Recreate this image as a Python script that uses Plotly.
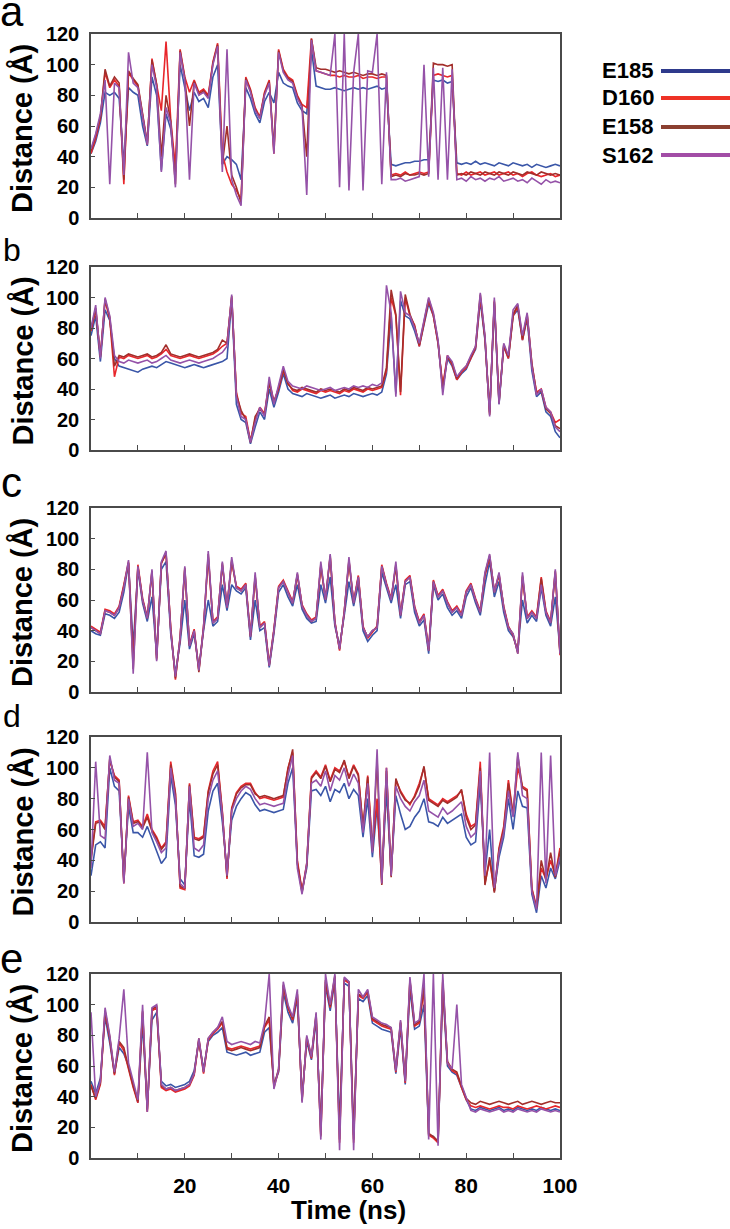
"""Distance traces for four residues over 100 ns, five stacked panels (a-e)."""

import plotly.graph_objects as go
from plotly.subplots import make_subplots

# ---- data (1 ns sampling) --------------------------------------------------
TIME_NS = list(range(0, 101))
RESIDUES = ["E185", "D160", "E158", "S162"]
PANEL_LABELS = ["a", "b", "c", "d", "e"]
Y_TICKS = [0, 20, 40, 60, 80, 100, 120]
X_TICKS = [10, 20, 30, 40, 50, 60, 70, 80, 90, 100]
X_TICK_TEXT = ["", "20", "", "40", "", "60", "", "80", "", "100"]

a_E185 = [42, 50, 62, 82, 80, 82, 78, 35, 85, 82,
          80, 60, 47, 92, 80, 31, 68, 58, 30, 100,
          85, 70, 82, 76, 78, 72, 92, 100, 35, 40,
          38, 35, 25, 85, 78, 68, 62, 76, 82, 75,
          95, 88, 86, 85, 75, 70, 68, 110, 86, 85,
          84, 84, 85, 84, 83, 84, 85, 84, 85, 84,
          85, 86, 84, 85, 35, 34, 35, 36, 36, 37,
          37, 38, 38, 90, 89, 90, 88, 89, 36, 35,
          36, 35, 37, 35, 36, 35, 34, 36, 35, 34,
          36, 35, 34, 35, 33, 35, 34, 33, 34, 35,
          34]
a_D160 = [42, 52, 65, 95, 85, 90, 86, 22, 95, 90,
          86, 66, 48, 104, 88, 70, 115, 64, 33, 110,
          92, 82, 90, 82, 84, 80, 102, 114, 42, 30,
          22, 18, 12, 92, 84, 72, 66, 82, 90, 42,
          110, 97, 92, 90, 80, 74, 72, 117, 96, 95,
          94, 93, 93, 92, 93, 92, 92, 93, 91, 92,
          92, 91, 92, 92, 28, 29, 28, 30, 28, 29,
          30, 29, 30, 93, 94, 93, 92, 93, 29, 28,
          30, 28, 29, 30, 28, 29, 30, 28, 29, 30,
          28, 29, 27, 29, 30, 28, 27, 28, 29, 27,
          28]
a_E158 = [44, 54, 66, 97, 86, 92, 88, 25, 96, 91,
          87, 67, 49, 103, 87, 40, 80, 63, 22, 109,
          91, 60, 89, 81, 83, 79, 101, 113, 35, 60,
          28, 20, 10, 91, 83, 71, 65, 81, 89, 45,
          109, 96, 91, 89, 79, 73, 40, 117, 98, 97,
          97, 96, 95, 96, 95, 94, 95, 94, 93, 94,
          94, 93, 94, 93, 27, 28, 27, 29, 28, 28,
          29, 28, 29, 101, 100, 100, 99, 100, 28, 29,
          28, 30, 29, 28, 30, 29, 28, 30, 29, 28,
          30, 29, 28, 30, 29, 28, 30, 29, 28, 29,
          28]
a_S162 = [45, 55, 68, 90, 22, 88, 85, 28, 108, 88,
          85, 65, 48, 100, 85, 30, 72, 62, 20, 108,
          90, 25, 88, 80, 82, 78, 100, 112, 30, 110,
          25, 15, 8, 90, 82, 70, 65, 80, 88, 42,
          108, 95, 90, 88, 78, 72, 15, 116, 96, 95,
          94, 93, 120, 20, 120, 18, 95, 120, 18, 96,
          95, 120, 22, 95, 25, 25, 26, 24, 25, 26,
          27, 100, 27, 98, 25, 98, 25, 97, 25, 26,
          24, 27, 25, 26, 24, 26, 25, 27, 24, 25,
          26, 24, 25, 23, 26, 24, 22, 25, 23, 24,
          23]

b_E185 = [75, 88, 58, 92, 85, 60, 55, 54, 53, 52,
          51, 53, 54, 55, 54, 56, 58, 57, 56, 55,
          54, 55, 56, 55, 54, 55, 56, 57, 58, 60,
          98, 30, 20, 18, 4, 15, 25, 20, 40, 28,
          38, 50, 40, 37, 36, 35, 37, 36, 35, 34,
          35, 36, 34, 35, 36, 35, 37, 36, 35, 36,
          37, 36, 38, 50, 88, 37, 98, 88, 86, 78,
          68, 82, 96, 88, 70, 40, 60, 55, 46, 50,
          53, 60, 66, 98, 72, 25, 96, 30, 68, 60,
          88, 92, 72, 86, 52, 35, 38, 25, 22, 12,
          8]
b_D160 = [78, 92, 62, 98, 86, 48, 61, 60, 62, 61,
          60, 61, 62, 60, 61, 63, 66, 62, 61, 60,
          61, 62, 61, 60, 61, 62, 63, 65, 68, 70,
          100, 38, 24, 22, 6, 20, 28, 24, 45, 32,
          40, 52, 44, 39, 38, 40, 39, 38, 37, 39,
          38, 39, 38, 37, 39, 38, 40, 39, 38, 40,
          39, 40, 41, 52, 100, 88, 36, 100, 88, 82,
          68, 83, 98, 88, 70, 42, 62, 56, 46, 51,
          54, 60, 67, 100, 74, 24, 98, 32, 68, 60,
          88, 94, 72, 88, 56, 38, 40, 28, 25, 18,
          20]
b_E158 = [79, 93, 61, 99, 87, 55, 62, 61, 63, 62,
          61, 62, 63, 61, 62, 64, 69, 63, 62, 61,
          62, 63, 62, 61, 62, 63, 64, 66, 72, 70,
          101, 36, 26, 20, 5, 22, 27, 23, 44, 31,
          41, 53, 43, 40, 39, 41, 40, 39, 38, 40,
          39, 40, 39, 38, 40, 39, 41, 40, 39, 41,
          40, 41, 42, 54, 105, 89, 38, 102, 89, 81,
          69, 84, 99, 89, 71, 40, 61, 57, 47, 52,
          55, 61, 68, 102, 73, 23, 97, 31, 69, 61,
          89, 95, 73, 89, 57, 37, 39, 27, 24, 16,
          14]
b_S162 = [80, 95, 60, 100, 88, 62, 58, 57, 59, 58,
          57, 58, 59, 57, 58, 60, 62, 59, 58, 57,
          58, 59, 58, 57, 58, 59, 60, 62, 64, 68,
          102, 35, 22, 20, 5, 18, 28, 22, 48, 30,
          42, 55, 45, 42, 41, 40, 42, 41, 40, 39,
          40, 41, 39, 40, 41, 40, 42, 41, 42, 41,
          43, 42, 44, 108, 90, 35, 104, 90, 88, 80,
          70, 85, 100, 90, 72, 36, 62, 58, 48, 52,
          55, 62, 68, 103, 75, 22, 100, 30, 70, 62,
          92, 96, 75, 90, 55, 36, 40, 28, 25, 15,
          12]

c_E185 = [40, 38, 37, 51, 50, 48, 52, 65, 84, 30,
          80, 58, 46, 62, 24, 80, 85, 38, 12, 32,
          60, 28, 38, 16, 40, 60, 43, 46, 70, 53,
          70, 66, 64, 68, 34, 60, 40, 42, 16, 38,
          65, 70, 62, 56, 70, 54, 48, 45, 46, 70,
          58, 75, 43, 30, 50, 72, 56, 70, 40, 33,
          37, 40, 78, 68, 58, 70, 48, 70, 72, 52,
          43, 47, 25, 70, 60, 64, 55, 50, 53, 48,
          62, 68, 58, 50, 70, 85, 62, 72, 52, 40,
          36, 27, 60, 45, 50, 46, 68, 50, 43, 62,
          27]
c_D160 = [43, 41, 39, 54, 53, 51, 56, 70, 85, 20,
          83, 61, 49, 78, 22, 84, 90, 42, 8, 36,
          80, 31, 41, 14, 43, 88, 46, 49, 83, 56,
          85, 69, 67, 71, 37, 75, 43, 46, 18, 41,
          69, 73, 66, 59, 76, 57, 51, 47, 49, 82,
          61, 88, 46, 27, 53, 85, 59, 76, 43, 35,
          39, 43, 83, 71, 61, 82, 51, 73, 76, 56,
          46, 51, 28, 73, 63, 67, 59, 53, 56, 51,
          66, 71, 61, 53, 76, 88, 66, 76, 56, 43,
          37, 26, 75, 49, 53, 49, 75, 53, 46, 78,
          24]
c_E158 = [42, 40, 38, 53, 52, 50, 55, 69, 84, 15,
          82, 60, 48, 79, 21, 84, 91, 41, 9, 35,
          81, 30, 40, 13, 42, 90, 45, 48, 84, 55,
          86, 68, 66, 70, 36, 76, 42, 45, 17, 40,
          68, 72, 65, 58, 77, 56, 50, 46, 48, 83,
          60, 89, 45, 28, 52, 86, 58, 75, 42, 36,
          40, 42, 82, 70, 60, 83, 50, 72, 75, 55,
          45, 50, 27, 72, 62, 66, 58, 52, 55, 50,
          65, 70, 60, 52, 77, 89, 65, 77, 55, 42,
          38, 25, 76, 48, 52, 48, 74, 52, 45, 79,
          25]
c_S162 = [42, 40, 38, 53, 52, 50, 55, 68, 86, 12,
          82, 60, 48, 80, 20, 85, 92, 40, 10, 35,
          82, 30, 40, 14, 42, 92, 45, 48, 85, 55,
          88, 68, 66, 70, 36, 78, 42, 45, 17, 40,
          68, 72, 65, 58, 78, 56, 50, 46, 48, 85,
          60, 90, 45, 28, 52, 88, 58, 75, 42, 36,
          40, 42, 82, 70, 60, 85, 50, 72, 75, 55,
          45, 50, 27, 72, 62, 66, 58, 52, 55, 50,
          65, 70, 60, 52, 78, 90, 65, 78, 55, 42,
          38, 25, 78, 48, 52, 48, 70, 52, 45, 80,
          25]

d_E185 = [30, 50, 52, 48, 100, 88, 85, 28, 75, 58,
          58, 55, 62, 54, 45, 38, 42, 95, 76, 28,
          24, 80, 43, 42, 44, 72, 85, 90, 65, 32,
          66, 75, 80, 84, 82, 76, 72, 73, 72, 71,
          72, 73, 90, 100, 38, 20, 35, 85, 86, 82,
          88, 78, 86, 84, 90, 80, 86, 82, 55, 80,
          42, 75, 28, 85, 32, 82, 70, 60, 62, 68,
          72, 80, 65, 64, 62, 68, 64, 66, 68, 70,
          55, 50, 52, 90, 32, 60, 20, 42, 55, 80,
          60, 85, 75, 74, 18, 6, 30, 22, 35, 28,
          40]
d_D160 = [42, 65, 66, 62, 105, 95, 92, 25, 82, 65,
          66, 62, 70, 60, 55, 48, 52, 104, 84, 22,
          21, 90, 55, 54, 56, 85, 98, 104, 72, 28,
          74, 84, 88, 90, 90, 84, 80, 81, 80, 79,
          80, 81, 100, 110, 40, 20, 38, 94, 98, 94,
          102, 92, 100, 98, 104, 94, 102, 96, 60, 95,
          48, 80, 25, 100, 30, 92, 85, 80, 76, 82,
          90, 100, 80, 78, 76, 80, 78, 80, 82, 85,
          70, 62, 64, 104, 25, 40, 20, 48, 62, 92,
          70, 100, 88, 86, 22, 10, 35, 28, 40, 30,
          48]
d_E158 = [40, 64, 65, 60, 106, 94, 91, 26, 81, 64,
          65, 61, 68, 59, 54, 47, 51, 102, 83, 23,
          22, 89, 54, 53, 55, 84, 96, 102, 71, 29,
          73, 83, 87, 89, 89, 83, 81, 82, 81, 80,
          81, 82, 99, 112, 38, 19, 37, 93, 97, 93,
          101, 91, 99, 97, 105, 93, 101, 95, 62, 94,
          46, 105, 24, 98, 29, 93, 84, 79, 77, 81,
          88, 101, 79, 77, 75, 79, 77, 79, 81, 86,
          68, 60, 63, 100, 24, 42, 19, 47, 60, 90,
          69, 108, 87, 85, 21, 9, 40, 27, 45, 29,
          46]
d_S162 = [35, 104, 56, 54, 108, 92, 90, 25, 80, 62,
          64, 60, 110, 58, 52, 45, 48, 100, 80, 25,
          22, 88, 48, 46, 50, 80, 92, 98, 70, 30,
          72, 80, 85, 88, 86, 80, 76, 77, 76, 75,
          76, 77, 95, 108, 35, 18, 38, 90, 92, 88,
          98, 85, 95, 92, 100, 88, 96, 90, 58, 90,
          45, 112, 25, 100, 30, 88, 80, 75, 72, 78,
          82, 92, 72, 70, 68, 74, 70, 72, 75, 78,
          62, 55, 58, 98, 30, 110, 22, 45, 58, 85,
          68, 110, 82, 80, 20, 8, 110, 25, 108, 30,
          42]

e_E185 = [50, 42, 52, 92, 75, 55, 72, 68, 60, 48,
          36, 88, 32, 90, 95, 50, 47, 48, 46, 47,
          48, 50, 57, 76, 58, 76, 80, 82, 85, 69,
          68, 67, 68, 69, 67, 68, 69, 82, 85, 48,
          56, 108, 95, 88, 104, 40, 76, 64, 90, 20,
          112, 96, 115, 20, 114, 112, 15, 104, 102, 106,
          88, 86, 84, 83, 82, 55, 85, 48, 110, 84,
          86, 100, 15, 14, 10, 110, 60, 56, 54, 46,
          38, 32, 31, 33, 32, 31, 32, 33, 31, 32,
          31, 33, 32, 31, 32, 31, 33, 32, 31, 32,
          31]
e_D160 = [48, 38, 48, 95, 78, 54, 75, 70, 58, 46,
          36, 95, 30, 96, 98, 46, 44, 45, 43, 44,
          45, 47, 54, 77, 55, 77, 81, 84, 88, 72,
          71, 72, 73, 72, 71, 72, 73, 85, 90, 46,
          57, 112, 98, 90, 106, 38, 78, 65, 93, 15,
          115, 98, 118, 10, 116, 114, 10, 106, 104, 108,
          90, 88, 86, 85, 84, 56, 88, 49, 115, 86,
          88, 110, 15, 13, 10, 115, 62, 57, 55, 46,
          38, 34, 33, 34, 33, 32, 33, 34, 33, 33,
          32, 34, 33, 32, 33, 34, 33, 32, 33, 34,
          33]
e_E158 = [47, 39, 49, 96, 79, 55, 76, 72, 59, 47,
          37, 96, 31, 97, 99, 47, 45, 46, 44, 45,
          46, 48, 55, 78, 56, 78, 82, 85, 89, 71,
          70, 71, 72, 71, 70, 71, 72, 86, 92, 47,
          58, 113, 99, 91, 107, 37, 79, 66, 94, 14,
          116, 99, 119, 12, 117, 115, 12, 107, 105, 109,
          91, 89, 87, 86, 85, 57, 89, 50, 116, 87,
          89, 112, 16, 14, 11, 116, 63, 58, 56, 47,
          39, 36, 35, 37, 36, 35, 36, 37, 36, 35,
          36, 37, 35, 36, 37, 36, 35, 36, 37, 36,
          36]
e_S162 = [95, 40, 50, 98, 80, 56, 78, 110, 62, 50,
          38, 100, 30, 98, 100, 48, 45, 46, 44, 45,
          46, 48, 55, 78, 56, 78, 82, 85, 92, 76,
          74, 75, 76, 75, 74, 76, 75, 88, 120, 45,
          58, 115, 100, 92, 110, 36, 80, 66, 95, 12,
          120, 100, 120, 5, 118, 115, 5, 110, 105, 110,
          92, 90, 88, 87, 85, 57, 90, 50, 118, 88,
          90, 120, 12, 120, 8, 120, 62, 58, 100, 48,
          40, 31, 30, 32, 31, 30, 31, 32, 30, 31,
          30, 32, 31, 30, 31, 30, 32, 31, 30, 31,
          30]

PANELS = [
    [a_E185, a_D160, a_E158, a_S162],
    [b_E185, b_D160, b_E158, b_S162],
    [c_E185, c_D160, c_E158, c_S162],
    [d_E185, d_D160, d_E158, d_S162],
    [e_E185, e_D160, e_E158, e_S162],
]

# ---- style ----------------------------------------------------------------
W, H = 730, 1229
FONT = "Liberation Sans, Arial, sans-serif"
LINE_COLORS = {"E185": "#3A56A8", "D160": "#E8262B", "E158": "#A32E2B", "S162": "#9552A8"}
LEGEND_COLORS = {"E185": "#2E3A8C", "D160": "#EE3226", "E158": "#8B3F30", "S162": "#A24DA6"}
AXIS_COLOR = "#4a4a4a"

# positions below are pixels of the reference picture
PLOT_X = (91, 560)
PANEL_Y = [(34, 218), (267, 450), (508, 692), (737, 922), (974, 1158)]


def px_x(x):
    return x / W


def px_y(y):
    return 1 - y / H


def bold(size):
    return dict(family=FONT, size=size, color="black", weight="bold")


fig = make_subplots(rows=5, cols=1)

for r, series in enumerate(PANELS, start=1):
    for name, ys in zip(RESIDUES, series):
        fig.add_trace(go.Scatter(
            x=TIME_NS, y=ys, mode="lines", name=name, showlegend=False,
            line=dict(color=LINE_COLORS[name], width=1.6),
            hovertemplate=f"{name}: %{{y}} Å<extra></extra>",
        ), row=r, col=1)

    top, bottom = PANEL_Y[r - 1]
    fig.update_xaxes(
        row=r, col=1, domain=[px_x(PLOT_X[0]), px_x(PLOT_X[1])], range=[0, 100],
        tickvals=X_TICKS, ticktext=X_TICK_TEXT, showticklabels=(r == 5),
        ticks="inside", ticklen=5, tickwidth=1.2, tickcolor=AXIS_COLOR,
        showline=True, mirror=True, linecolor=AXIS_COLOR, linewidth=1.5,
        showgrid=False, zeroline=False, ticklabelstandoff=8, automargin=False,
        tickfont=bold(21),
    )
    fig.update_yaxes(
        row=r, col=1, domain=[px_y(bottom), px_y(top)], range=[0, 120],
        tickvals=Y_TICKS, ticks="inside", ticklen=4, tickwidth=1.2, tickcolor=AXIS_COLOR,
        showline=True, mirror=True, linecolor=AXIS_COLOR, linewidth=1.5,
        showgrid=False, zeroline=False, ticklabelstandoff=6, automargin=False,
        tickfont=bold(20),
    )

annotations = []
# y titles
for top, bottom in PANEL_Y:
    annotations.append(dict(
        text="Distance (Å)", x=px_x(22), y=px_y((top + bottom) / 2 + 3),
        xref="paper", yref="paper", xanchor="center", yanchor="middle",
        showarrow=False, textangle=-90, font=bold(29),
    ))
# x title
annotations.append(dict(
    text="Time (ns)", x=px_x(348), y=px_y(1210), xref="paper", yref="paper",
    xanchor="center", yanchor="middle", showarrow=False, font=bold(26),
))
# panel letters
LETTER_POS = [(12, 11, 42), (12, 250, 32), (11, 483, 42), (12, 716, 32), (11, 958, 42)]
for letter, (lx, ly, ls) in zip(PANEL_LABELS, LETTER_POS):
    annotations.append(dict(
        text=letter, x=px_x(lx), y=px_y(ly), xref="paper", yref="paper",
        xanchor="center", yanchor="middle", showarrow=False,
        font=dict(family=FONT, size=ls, color="black"),
    ))

# legend: label then a line sample
shapes = []
LEGEND_ROWS = [71, 98, 127, 155]
for name, ly in zip(RESIDUES, LEGEND_ROWS):
    annotations.append(dict(
        text=name, x=px_x(600), y=px_y(ly), xref="paper", yref="paper",
        xanchor="left", yanchor="middle", showarrow=False, font=bold(22),
    ))
    shapes.append(dict(
        type="line", xref="paper", yref="paper",
        x0=px_x(661), x1=px_x(730), y0=px_y(ly), y1=px_y(ly),
        line=dict(color=LEGEND_COLORS[name], width=4),
    ))

fig.update_layout(
    width=W, height=H,
    margin=dict(l=0, r=0, t=0, b=0, pad=0, autoexpand=False),
    paper_bgcolor="white", plot_bgcolor="white",
    annotations=annotations, shapes=shapes, showlegend=False,
)

# the page's default body margin would push the 730x1229 figure off the window
fig.write_html(
    "out.html",
    config={"displayModeBar": False},
    post_script="document.body.style.margin = '0';",
)
